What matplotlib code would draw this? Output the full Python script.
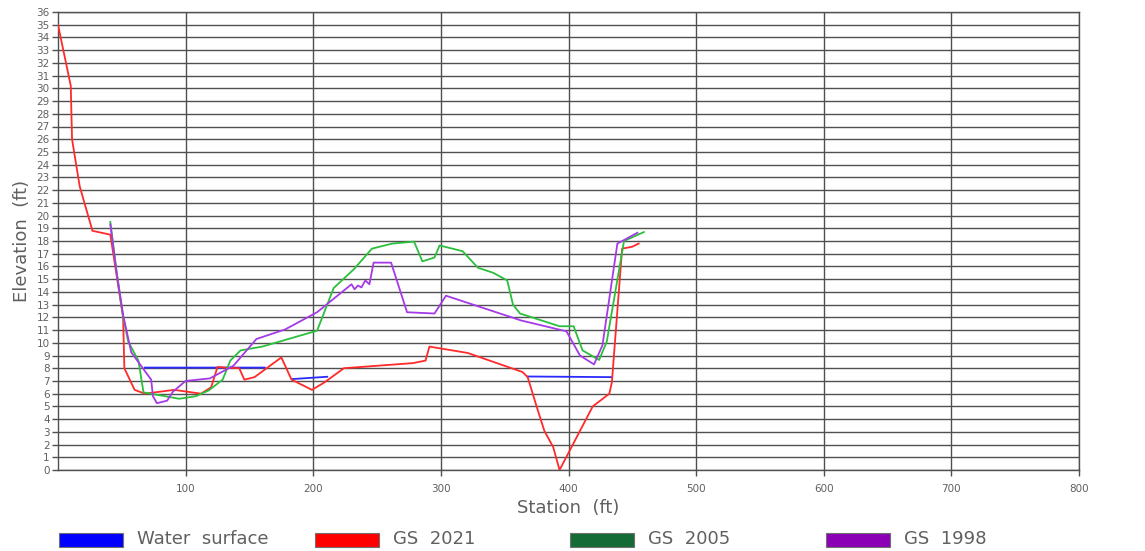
import numpy as np
import matplotlib
matplotlib.use("Agg")
import matplotlib.pyplot as plt
from matplotlib.patches import Rectangle

# station / elevation pairs
ws_x = [68, 162, np.nan, 184, 211, np.nan, 368, 434]
ws_y = [8.05, 8.05, np.nan, 7.15, 7.33, np.nan, 7.35, 7.3]

gs2021_x = [0, 10, 11, 17, 27, 41, 51, 52, 60, 68, 91, 112, 120, 125, 131, 142,
            146, 154, 175, 183, 199, 209, 224, 278, 288, 291, 321, 364, 368,
            375, 381, 388, 393, 419, 432, 434, 442, 450, 455]
gs2021_y = [35, 30.2, 26, 22.3, 18.8, 18.5, 12, 8, 6.3, 6.0, 6.3, 6.0, 6.5, 8.1,
            8.05, 8.0, 7.1, 7.3, 8.85, 7.1, 6.3, 6.9, 8.0, 8.4, 8.6, 9.7, 9.2,
            7.7, 7.3, 5.0, 3.1, 1.8, 0, 5.0, 6.0, 6.9, 17.4, 17.55, 17.8]

gs2005_x = [41, 46, 51, 55, 63, 67, 95, 108, 118, 129, 135, 143, 160, 203, 216,
            232, 246, 262, 279, 285.5, 295, 299, 317, 329, 341, 352, 356.5, 362,
            393, 404, 411, 424, 430, 443.5, 459]
gs2005_y = [19.5, 15.5, 12.05, 10.1, 8.6, 6.1, 5.6, 5.8, 6.25, 7.1, 8.6, 9.4,
            9.7, 10.95, 14.3, 15.8, 17.4, 17.8, 17.95, 16.4, 16.7, 17.65, 17.2,
            15.9, 15.5, 14.9, 13.0, 12.3, 11.3, 11.3, 9.4, 8.65, 10.1, 18.0, 18.7]

gs1998_x = [41, 46, 51, 57.4, 73, 74.4, 77.5, 85.5, 90, 100, 119, 137.5, 155.5,
            178, 203, 230, 232.4, 235, 237.7, 240.8, 244, 247.3, 261, 273.5,
            295, 304, 363, 398.4, 409, 420, 426.6, 438.3, 444, 454]
gs1998_y = [19.3, 15.5, 12.2, 9.25, 7.1, 5.8, 5.25, 5.45, 6.15, 7.0, 7.2, 8.2,
            10.3, 11.05, 12.4, 14.6, 14.2, 14.5, 14.35, 14.9, 14.6, 16.3, 16.3,
            12.4, 12.3, 13.7, 11.75, 10.9, 9.0, 8.3, 9.8, 17.8, 18.1, 18.65]

series_names = ["Water surface", "GS 2021", "GS 2005", "GS 1998"]
line_colors = ["#2a2aff", "#ff2a2a", "#2cbf3c", "#a63ae6"]
legend_colors = ["#0000ff", "#ff0000", "#156b35", "#8b00b5"]

text_gray = "#606060"
grid_gray = "#505050"

fig = plt.figure(figsize=(11.45, 5.51), dpi=100)
ax = fig.add_axes([58 / 1145, 1 - 470 / 551, (1079 - 58) / 1145, (470 - 12) / 551])

xs = [ws_x, gs2021_x, gs2005_x, gs1998_x]
ys = [ws_y, gs2021_y, gs2005_y, gs1998_y]
order = [3, 2, 0, 1]
for i in order:
    ax.plot(xs[i], ys[i], color=line_colors[i], lw=1.3, zorder=3 + i)

ax.set_xlim(0, 800)
ax.set_ylim(0, 36)
ax.set_xticks(range(100, 801, 100))
ax.set_yticks(range(0, 37))
ax.tick_params(axis="both", labelsize=7.5, colors=text_gray, length=4,
               width=1, color=grid_gray)
ax.tick_params(axis="x", pad=6)
ax.tick_params(axis="y", pad=2)
ax.grid(True, color=grid_gray, lw=1.0)
ax.set_axisbelow(True)
for s in ax.spines.values():
    s.set_color(grid_gray)
    s.set_linewidth(1.0)

ax.set_ylabel("Elevation  (ft)", fontsize=13, color=text_gray, labelpad=4)
ax.set_xlabel("Station  (ft)", fontsize=13, color=text_gray, labelpad=4)

# legend row along the bottom
patch_left = [59, 315, 570, 826]
for i, name in enumerate(series_names):
    x0 = patch_left[i] / 1145
    fig.add_artist(Rectangle((x0, 1 - 547 / 551), 64 / 1145, 14 / 551,
                             transform=fig.transFigure, facecolor=legend_colors[i],
                             edgecolor="#707070", lw=0.8))
    fig.text(x0 + 78 / 1145, 1 - 539 / 551, name.replace(" ", "  "),
             fontsize=13, color=text_gray, va="center", ha="left")

fig.savefig("out.png", dpi=100)
